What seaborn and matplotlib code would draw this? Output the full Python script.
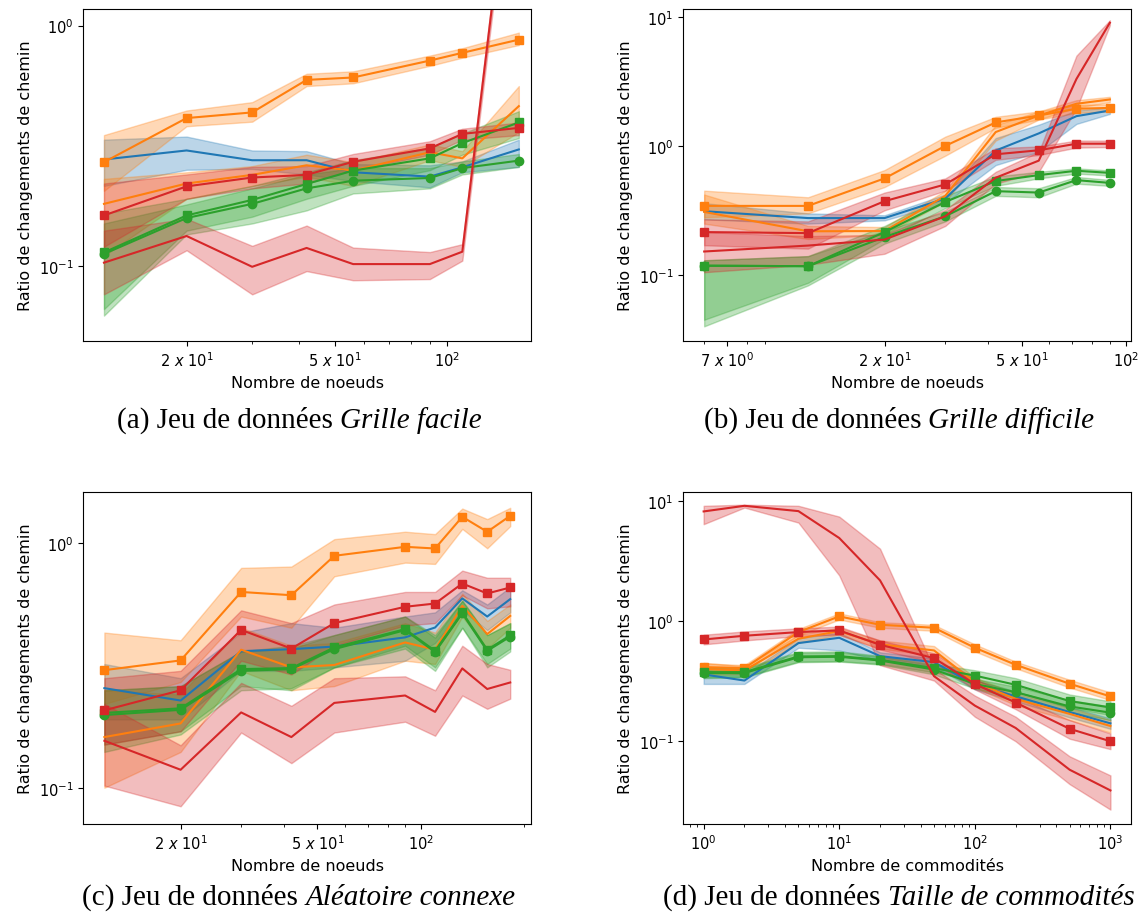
import numpy as np
import pandas as pd
import matplotlib
matplotlib.use("Agg")
import matplotlib.pyplot as plt
import seaborn as sns
from matplotlib.ticker import (NullLocator, NullFormatter, FixedLocator,
                               FuncFormatter, LogLocator)

BLUE, ORANGE, GREEN, RED = '#1f77b4', '#ff7f0e', '#2ca02c', '#d62728'

# ---------------- (a) Grille facile ----------------
A_X = [12, 20, 30, 42, 56, 90, 110, 156]
A_BLUE = [0.277, 0.302, 0.275, 0.275, 0.245, 0.235, 0.257, 0.305]
A_BLUE_LO = [0.215, 0.251, 0.253, 0.240, 0.225, 0.212, 0.245, 0.258]
A_BLUE_HI = [0.335, 0.345, 0.302, 0.300, 0.265, 0.262, 0.272, 0.335]
A_ORNM = [0.181, 0.220, 0.239, 0.262, 0.249, 0.297, 0.280, 0.462]
A_ORNM_LO = [0.110, 0.190, 0.215, 0.235, 0.215, 0.275, 0.258, 0.360]
A_ORNM_HI = [0.230, 0.245, 0.260, 0.290, 0.270, 0.320, 0.300, 0.560]
A_ORSQ = [0.270, 0.412, 0.435, 0.594, 0.608, 0.715, 0.770, 0.874]
A_ORSQ_LO = [0.205, 0.381, 0.398, 0.560, 0.575, 0.680, 0.735, 0.830]
A_ORSQ_HI = [0.350, 0.443, 0.480, 0.630, 0.645, 0.750, 0.805, 0.935]
A_GRCI = [0.112, 0.158, 0.181, 0.210, 0.226, 0.232, 0.255, 0.274]
A_GRCI_LO = [0.062, 0.135, 0.150, 0.170, 0.200, 0.210, 0.240, 0.258]
A_GRCI_HI = [0.150, 0.180, 0.210, 0.240, 0.255, 0.255, 0.272, 0.292]
A_GRSQ = [0.1136, 0.162, 0.188, 0.219, 0.249, 0.280, 0.324, 0.395]
A_GRSQ_LO = [0.066, 0.140, 0.160, 0.190, 0.215, 0.250, 0.290, 0.340]
A_GRSQ_HI = [0.165, 0.190, 0.215, 0.245, 0.275, 0.310, 0.355, 0.440]
A_RDNM = [0.103, 0.133, 0.099, 0.1186, 0.1016, 0.1016, 0.1144, 10.0]
A_RDNM_LO = [0.076, 0.116, 0.076, 0.095, 0.087, 0.088, 0.105, 9.0]
A_RDNM_HI = [0.140, 0.157, 0.121, 0.147, 0.119, 0.114, 0.123, 11.0]
A_RDSQ = [0.162, 0.214, 0.233, 0.239, 0.271, 0.308, 0.354, 0.375]
A_RDSQ_LO = [0.120, 0.190, 0.210, 0.220, 0.250, 0.290, 0.335, 0.350]
A_RDSQ_HI = [0.220, 0.240, 0.258, 0.260, 0.292, 0.330, 0.372, 0.395]

# ---------------- (b) Grille difficile ----------------
B_X = [6, 12, 20, 30, 42, 56, 72, 90]
B_BLUE = [0.312, 0.276, 0.276, 0.391, 0.92, 1.25, 1.70, 1.88]
B_BLUE_LO = [0.27, 0.25, 0.265, 0.36, 0.71, 0.90, 1.48, 1.77]
B_BLUE_HI = [0.36, 0.30, 0.29, 0.42, 1.15, 1.46, 1.88, 1.99]
B_ORNM = [0.308, 0.218, 0.219, 0.41, 1.28, 1.72, 2.12, 2.29]
B_ORNM_LO = [0.25, 0.19, 0.205, 0.37, 1.10, 1.60, 1.98, 2.18]
B_ORNM_HI = [0.42, 0.24, 0.235, 0.45, 1.45, 1.85, 2.26, 2.40]
B_ORSQ = [0.343, 0.343, 0.560, 1.00, 1.52, 1.72, 1.94, 1.97]
B_ORSQ_LO = [0.28, 0.30, 0.48, 0.84, 1.38, 1.60, 1.80, 1.85]
B_ORSQ_HI = [0.45, 0.40, 0.65, 1.18, 1.68, 1.85, 2.08, 2.10]
B_GRCI = [0.118, 0.117, 0.197, 0.285, 0.446, 0.435, 0.543, 0.517]
B_GRCI_LO = [0.040, 0.083, 0.175, 0.26, 0.41, 0.40, 0.51, 0.49]
B_GRCI_HI = [0.13, 0.14, 0.22, 0.31, 0.48, 0.47, 0.575, 0.545]
B_GRSQ = [0.118, 0.117, 0.215, 0.368, 0.534, 0.594, 0.642, 0.618]
B_GRSQ_LO = [0.045, 0.087, 0.19, 0.33, 0.49, 0.56, 0.61, 0.59]
B_GRSQ_HI = [0.13, 0.14, 0.24, 0.41, 0.58, 0.63, 0.67, 0.645]
B_RDNM = [0.152, 0.169, 0.188, 0.285, 0.567, 0.769, 3.3, 9.0]
B_RDNM_LO = [0.105, 0.12, 0.146, 0.24, 0.51, 0.63, 1.94, 8.6]
B_RDNM_HI = [0.215, 0.20, 0.205, 0.32, 0.63, 0.90, 5.0, 9.4]
B_RDSQ = [0.215, 0.211, 0.373, 0.503, 0.861, 0.925, 1.04, 1.04]
B_RDSQ_LO = [0.17, 0.16, 0.317, 0.45, 0.78, 0.85, 0.97, 0.98]
B_RDSQ_HI = [0.27, 0.26, 0.435, 0.56, 0.96, 0.99, 1.10, 1.10]

# ---------------- (c) Aléatoire connexe ----------------
C_X = [12, 20, 30, 42, 56, 90, 110, 132, 156, 182]
C_BLUE = [0.255, 0.227, 0.361, 0.368, 0.377, 0.411, 0.451, 0.593, 0.500, 0.589]
C_BLUE_LO = [0.19, 0.19, 0.30, 0.30, 0.31, 0.33, 0.39, 0.53, 0.44, 0.52]
C_BLUE_HI = [0.32, 0.28, 0.43, 0.47, 0.45, 0.50, 0.52, 0.64, 0.56, 0.66]
C_ORNM = [0.161, 0.183, 0.366, 0.310, 0.317, 0.392, 0.366, 0.553, 0.424, 0.503]
C_ORNM_LO = [0.10, 0.14, 0.30, 0.25, 0.26, 0.33, 0.32, 0.50, 0.37, 0.45]
C_ORNM_HI = [0.25, 0.24, 0.45, 0.38, 0.39, 0.47, 0.43, 0.62, 0.48, 0.56]
C_ORSQ = [0.302, 0.331, 0.630, 0.611, 0.885, 0.963, 0.948, 1.277, 1.109, 1.289]
C_ORSQ_LO = [0.22, 0.27, 0.50, 0.45, 0.73, 0.83, 0.82, 1.14, 0.95, 1.17]
C_ORSQ_HI = [0.43, 0.40, 0.79, 0.80, 1.035, 1.11, 1.085, 1.38, 1.25, 1.39]
C_GRCI = [0.198, 0.208, 0.300, 0.305, 0.368, 0.440, 0.358, 0.515, 0.362, 0.414]
C_GRCI_LO = [0.14, 0.165, 0.25, 0.255, 0.31, 0.37, 0.30, 0.45, 0.31, 0.36]
C_GRCI_HI = [0.25, 0.26, 0.36, 0.37, 0.42, 0.50, 0.41, 0.58, 0.42, 0.47]
C_GRSQ = [0.202, 0.211, 0.305, 0.308, 0.374, 0.444, 0.362, 0.520, 0.366, 0.419]
C_GRSQ_LO = [0.15, 0.17, 0.26, 0.25, 0.31, 0.38, 0.31, 0.45, 0.32, 0.37]
C_GRSQ_HI = [0.25, 0.26, 0.36, 0.38, 0.42, 0.50, 0.42, 0.58, 0.42, 0.47]
C_RDNM = [0.1555, 0.1184, 0.203, 0.161, 0.222, 0.238, 0.204, 0.307, 0.253, 0.269]
C_RDNM_LO = [0.102, 0.084, 0.168, 0.126, 0.168, 0.186, 0.163, 0.238, 0.21, 0.231]
C_RDNM_HI = [0.22, 0.149, 0.268, 0.216, 0.28, 0.285, 0.25, 0.38, 0.32, 0.303]
C_RDSQ = [0.207, 0.250, 0.441, 0.370, 0.470, 0.548, 0.565, 0.682, 0.621, 0.657]
C_RDSQ_LO = [0.15, 0.17, 0.33, 0.29, 0.38, 0.46, 0.47, 0.61, 0.54, 0.55]
C_RDSQ_HI = [0.28, 0.30, 0.53, 0.47, 0.56, 0.63, 0.63, 0.77, 0.72, 0.72]

# ---------------- (d) Taille de commodités ----------------
D_X = [1, 2, 5, 10, 20, 50, 100, 200, 500, 1000]
D_BLUE = [0.36, 0.32, 0.656, 0.726, 0.511, 0.455, 0.295, 0.237, 0.175, 0.141]
D_BLUE_LO = [0.30, 0.30, 0.60, 0.57, 0.47, 0.42, 0.27, 0.215, 0.158, 0.127]
D_BLUE_HI = [0.39, 0.36, 0.72, 0.80, 0.55, 0.49, 0.32, 0.26, 0.193, 0.155]
D_ORNM = [0.40, 0.388, 0.713, 0.826, 0.64, 0.570, 0.31, 0.225, 0.169, 0.134]
D_ORNM_LO = [0.36, 0.36, 0.66, 0.77, 0.59, 0.52, 0.28, 0.20, 0.15, 0.118]
D_ORNM_HI = [0.45, 0.42, 0.77, 0.88, 0.69, 0.62, 0.34, 0.25, 0.19, 0.15]
D_ORSQ = [0.414, 0.406, 0.81, 1.094, 0.932, 0.880, 0.600, 0.433, 0.301, 0.236]
D_ORSQ_LO = [0.385, 0.38, 0.76, 1.03, 0.88, 0.83, 0.56, 0.405, 0.28, 0.22]
D_ORSQ_HI = [0.445, 0.43, 0.86, 1.16, 0.98, 0.93, 0.64, 0.46, 0.325, 0.255]
D_GRCI = [0.37, 0.37, 0.50, 0.505, 0.47, 0.395, 0.30, 0.256, 0.195, 0.173]
D_GRCI_LO = [0.335, 0.34, 0.455, 0.46, 0.435, 0.36, 0.275, 0.23, 0.175, 0.15]
D_GRCI_HI = [0.405, 0.40, 0.545, 0.55, 0.505, 0.43, 0.33, 0.285, 0.22, 0.195]
D_GRSQ = [0.376, 0.376, 0.508, 0.511, 0.476, 0.406, 0.352, 0.295, 0.216, 0.191]
D_GRSQ_LO = [0.34, 0.345, 0.46, 0.465, 0.44, 0.375, 0.32, 0.26, 0.19, 0.165]
D_GRSQ_HI = [0.41, 0.41, 0.555, 0.56, 0.515, 0.44, 0.39, 0.335, 0.245, 0.215]
D_RDNM = [8.17, 9.1, 8.22, 4.91, 2.18, 0.348, 0.198, 0.129, 0.058, 0.039]
D_RDNM_LO = [6.4, 8.8, 6.6, 2.4, 0.43, 0.32, 0.16, 0.10, 0.044, 0.027]
D_RDNM_HI = [9.1, 9.3, 9.1, 7.4, 4.0, 0.40, 0.24, 0.16, 0.075, 0.052]
D_RDSQ = [0.703, 0.755, 0.81, 0.836, 0.635, 0.492, 0.299, 0.21, 0.127, 0.100]
D_RDSQ_LO = [0.64, 0.69, 0.75, 0.77, 0.58, 0.45, 0.27, 0.185, 0.105, 0.086]
D_RDSQ_HI = [0.77, 0.82, 0.87, 0.90, 0.69, 0.54, 0.33, 0.235, 0.15, 0.116]

XLABELS = ['Nombre de noeuds', 'Nombre de noeuds', 'Nombre de noeuds', 'Nombre de commodités']
YLABEL = 'Ratio de changements de chemin'
CAPTION_LEFT = ['(a) Jeu de données', '(b) Jeu de données',
                '(c) Jeu de données', '(d) Jeu de données']
CAPTION_ITALIC = ['Grille facile', 'Grille difficile',
                  'Aléatoire connexe', 'Taille de commodités']


def series(ax, x, mid, lo, hi, color, marker=None):
    df = pd.DataFrame({'x': np.repeat(x, 3),
                       'y': np.column_stack([lo, mid, hi]).ravel()})
    kws = {}
    if marker:
        kws = dict(marker=marker, markersize=6, markeredgecolor=color,
                   markeredgewidth=1)
    sns.lineplot(data=df, x='x', y='y', ax=ax, color=color,
                 estimator='median', errorbar=('pi', 100),
                 err_kws={'alpha': 0.3}, linewidth=1.5, **kws)


def xfmt(v, pos):
    e = int(np.floor(np.log10(v) + 1e-9))
    c = int(round(v / 10 ** e))
    if c == 1:
        return r'$\mathdefault{10^{%d}}$' % e
    return r'$\mathdefault{%d}\ x\ \mathdefault{10^{%d}}$' % (c, e)


def panel(ax, x, g, xlim, ylim, majors, xlabel):
    ax.set_xscale('log')
    ax.set_yscale('log')
    series(ax, x, *g['BLUE'], BLUE)
    series(ax, x, *g['ORNM'], ORANGE)
    series(ax, x, *g['ORSQ'], ORANGE, 's')
    series(ax, x, *g['GRCI'], GREEN, 'o')
    series(ax, x, *g['GRSQ'], GREEN, 's')
    series(ax, x, *g['RDNM'], RED)
    series(ax, x, *g['RDSQ'], RED, 's')
    ax.set_xlim(*xlim)
    ax.set_ylim(*ylim)
    ax.xaxis.set_major_locator(FixedLocator(majors))
    ax.xaxis.set_major_formatter(FuncFormatter(xfmt))
    ax.xaxis.set_minor_locator(LogLocator(subs=np.arange(2, 10)))
    ax.xaxis.set_minor_formatter(NullFormatter())
    ax.yaxis.set_minor_locator(NullLocator())
    ax.set_xlabel(xlabel, fontsize=11.5)
    ax.set_ylabel(YLABEL, fontsize=11.5)
    ax.tick_params(labelsize=10.5)


def group(prefix):
    ns = globals()
    out = {}
    for k in ['BLUE', 'ORNM', 'ORSQ', 'GRCI', 'GRSQ', 'RDNM', 'RDSQ']:
        out[k] = (ns[f'{prefix}_{k}'], ns[f'{prefix}_{k}_LO'], ns[f'{prefix}_{k}_HI'])
    return out


W, H = 1145, 920
fig = plt.figure(figsize=(W / 100, H / 100), dpi=100)
aw, ah = 447.5 / W, 332.5 / H
ax_a = fig.add_axes([83.3 / W, 1 - 342 / H, aw, ah])
ax_b = fig.add_axes([683.3 / W, 1 - 342 / H, aw, ah])
ax_c = fig.add_axes([83.3 / W, 1 - 825 / H, aw, ah])
ax_d = fig.add_axes([683.3 / W, 1 - 825 / H, aw, ah])

panel(ax_a, A_X, group('A'), (10.56, 168), (0.0486, 1.178), [20, 50, 100], XLABELS[0])
panel(ax_b, B_X, group('B'), (5.22, 103.5), (0.0308, 11.6), [7, 20, 50, 100], XLABELS[1])
panel(ax_c, C_X, group('C'), (10.42, 208.9), (0.0711, 1.62), [20, 50, 100], XLABELS[2])
panel(ax_d, D_X, group('D'), (0.708, 1413), (0.0205, 11.97), [1, 10, 100, 1000], XLABELS[3])

# captions: upright part + italic part, centred together
renderer = fig.canvas.get_renderer()
CAP_FS = 21
centres = [(299, 428), (899, 428), (299, 905), (899, 905)]
for (cx, cy), left, ital in zip(centres, CAPTION_LEFT, CAPTION_ITALIC):
    t1 = fig.text(0, 1 - cy / H, left, fontsize=CAP_FS, family='Liberation Serif',
                  ha='left', va='baseline')
    t2 = fig.text(0, 1 - cy / H, ital, fontsize=CAP_FS, family='Liberation Serif',
                  style='italic', ha='left', va='baseline')
    w1 = t1.get_window_extent(renderer).width
    w2 = t2.get_window_extent(renderer).width
    gap = 0.25 * CAP_FS * 100 / 72
    x0 = cx - (w1 + gap + w2) / 2
    t1.set_x(x0 / W)
    t2.set_x((x0 + w1 + gap) / W)

fig.savefig('out.png', dpi=100)
